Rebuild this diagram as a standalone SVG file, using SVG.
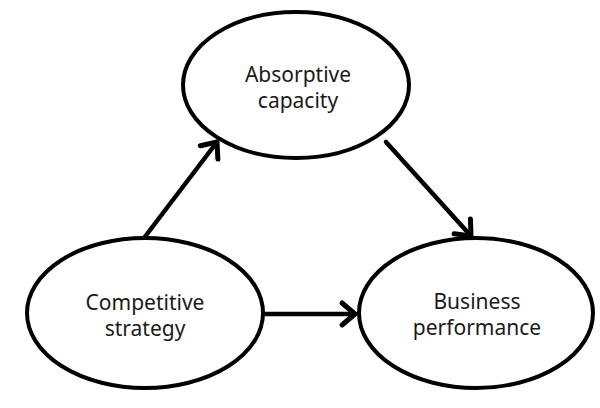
<svg xmlns="http://www.w3.org/2000/svg" width="600" height="408" viewBox="0 0 600 408">
<style>
.node ellipse{fill:#fff;stroke:#000;stroke-width:4}
.node text{font-family:"Noto Sans","Open Sans",sans-serif;font-size:21px;fill:#1a1a1a;text-anchor:middle}
.edge{stroke:#000;stroke-width:4.5;fill:none;stroke-linecap:round}
</style>
<defs>
<marker id="arr" markerUnits="userSpaceOnUse" markerWidth="30" markerHeight="30" refX="15" refY="15" orient="auto" overflow="visible">
<path d="M2,4 L15,15 L2,26" fill="none" stroke="#000" stroke-width="5" stroke-linecap="round" stroke-linejoin="round"/>
</marker>
</defs>
<rect width="600" height="408" fill="#fff"/>
<g id="connectors">
<line class="edge" x1="144" y1="238" x2="217" y2="142" marker-end="url(#arr)"/>
<line class="edge" x1="386" y1="142" x2="471" y2="236" marker-end="url(#arr)"/>
<line class="edge" x1="264" y1="314" x2="355" y2="314" marker-end="url(#arr)"/>
</g>
<g id="absorptive" class="node">
<ellipse cx="296" cy="85" rx="113" ry="73"/>
<text x="298" y="82">Absorptive</text>
<text x="298" y="108">capacity</text>
</g>
<g id="competitive" class="node">
<ellipse cx="145" cy="313" rx="118" ry="75"/>
<text x="145" y="310">Competitive</text>
<text x="145" y="336">strategy</text>
</g>
<g id="business" class="node">
<ellipse cx="476" cy="313" rx="117" ry="75"/>
<text x="477" y="309">Business</text>
<text x="477" y="335">performance</text>
</g>
</svg>
